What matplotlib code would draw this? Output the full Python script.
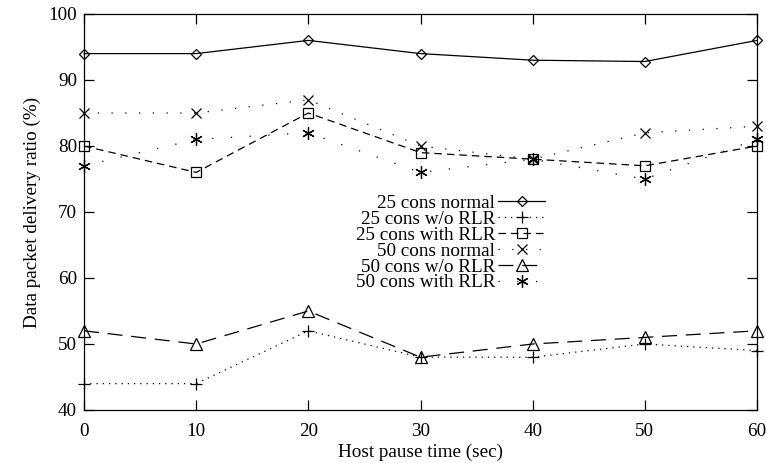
import matplotlib
matplotlib.use("Agg")
import matplotlib.pyplot as plt

plt.rcParams['font.family'] = ['Liberation Serif', 'DejaVu Serif']

pause_time = [0, 10, 20, 30, 40, 50, 60]
cons25_normal = [94, 94, 96, 94, 93, 92.8, 96]
cons25_without_rlr = [44, 44, 52, 48, 48, 50, 49]
cons25_with_rlr = [80, 76, 85, 79, 78, 77, 80]
cons50_normal = [85, 85, 87, 80, 78, 82, 83]
cons50_without_rlr = [52, 50, 55, 48, 50, 51, 52]
cons50_with_rlr = [77, 81, 82, 76, 78, 75, 81]

labels = ["25 cons normal", "25 cons w/o RLR", "25 cons with RLR",
          "50 cons normal", "50 cons w/o RLR", "50 cons with RLR"]
x_ticks = [0, 10, 20, 30, 40, 50, 60]
y_ticks = [40, 50, 60, 70, 80, 90, 100]

series = [cons25_normal, cons25_without_rlr, cons25_with_rlr,
          cons50_normal, cons50_without_rlr, cons50_with_rlr]
styles = [
    dict(marker='D', ms=5.5, ls='-'),
    dict(marker='+', ms=8, ls=(0, (1, 4))),
    dict(marker='s', ms=7, ls=(0, (6, 4))),
    dict(marker='x', ms=7, ls=(0, (1, 10))),
    dict(marker='^', ms=9, ls=(0, (12, 7))),
    dict(marker=(6, 2, 0), ms=9, ls=(0, (1, 14))),
]

FS = 13.8

fig = plt.figure(figsize=(7.66, 4.63), dpi=100)
ax = fig.add_axes([84 / 766, 1 - 410 / 463, (757 - 84) / 766, (410 - 14) / 463])

handles = []
for vals, lab, st in zip(series, labels, styles):
    h, = ax.plot(pause_time, vals, color='black', lw=0.9, linestyle=st['ls'],
                 marker=st['marker'], markersize=st['ms'], markerfacecolor='none',
                 markeredgecolor='black', markeredgewidth=0.9, label=lab,
                 clip_on=False)
    handles.append(h)

ax.set_xlim(0, 60)
ax.set_ylim(40, 100)
ax.set_xticks(x_ticks)
ax.set_yticks(y_ticks)
ax.tick_params(direction='in', length=7, width=0.9, top=True, right=True,
               labelsize=FS, pad=5, colors='black')
ax.tick_params(axis='x', pad=9)
for sp in ax.spines.values():
    sp.set_linewidth(0.9)

ax.set_xlabel("Host pause time (sec)", fontsize=FS, labelpad=3)
ax.set_ylabel("Data packet delivery ratio (%)", fontsize=FS, labelpad=5)

leg = ax.legend(handles=handles, loc='upper right', bbox_to_anchor=(0.685, 0.545),
                markerfirst=False, frameon=False, fontsize=FS,
                handlelength=2.45, handletextpad=0.15, labelspacing=-0.075,
                borderpad=0, borderaxespad=0, numpoints=1)

fig.savefig("out.png", dpi=100)
